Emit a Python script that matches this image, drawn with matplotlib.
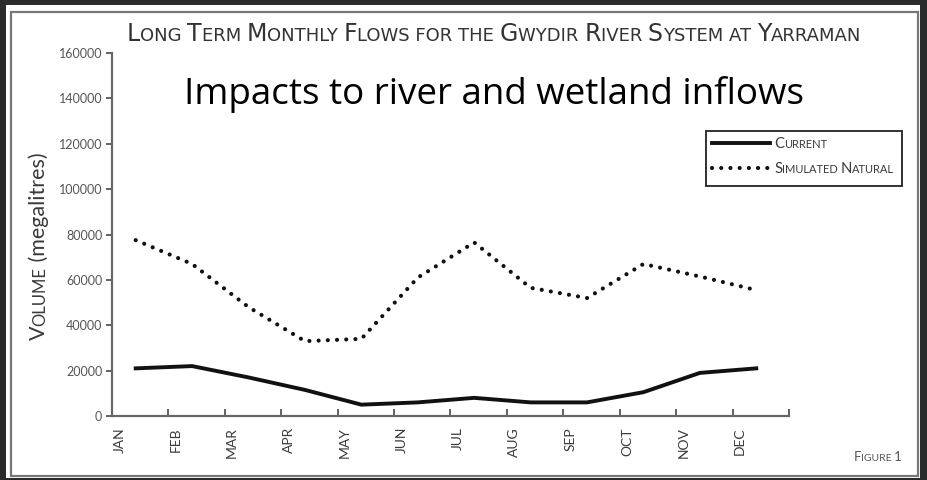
import numpy as np
import matplotlib
matplotlib.use('Agg')
import matplotlib.pyplot as plt
from matplotlib.patches import Rectangle
from matplotlib.lines import Line2D

plt.rcParams['font.family'] = ['Lato', 'DejaVu Sans']

# data
months = ['JAN', 'FEB', 'MAR', 'APR', 'MAY', 'JUN', 'JUL', 'AUG', 'SEP', 'OCT', 'NOV', 'DEC']
current = [21000, 22000, 17000, 11500, 5000, 6000, 8000, 6000, 6000, 10500, 19000, 21000]
natural = [77500, 67000, 48000, 33000, 34000, 61000, 76500, 56500, 52000, 67000, 61500, 55500]
yticks = [0, 20000, 40000, 60000, 80000, 100000, 120000, 140000, 160000]

W, H = 928, 480
fig = plt.figure(figsize=(W / 100, H / 100), dpi=100, facecolor='#2b2b2b')
renderer = fig.canvas.get_renderer()
TXT = '#3a3a3a'


def fx(px):
    return px / W


def fy(py):
    # py measured from the top of the picture
    return 1 - py / H


def sc(s, big, small):
    # split a string into small-caps segments
    segs = []
    for ch in s:
        size = small if ch.islower() or ch == ' ' else big
        if segs and segs[-1][1] == size:
            segs[-1][0] += ch.upper()
        else:
            segs.append([ch.upper(), size])
    return segs


def draw_segs(x, y, segs, ha='left', rotation=0, color=TXT, family=None):
    texts, widths = [], []
    fam = family or plt.rcParams['font.family']
    for s, size in segs:
        t = fig.text(0, 0, s, fontsize=size, color=color, va='baseline', family=fam,
                     ha='left', rotation=rotation, rotation_mode='anchor')
        tmp = fig.text(0, 0, s.replace(' ', '\u00a0'), fontsize=size, family=fam)
        widths.append(tmp.get_window_extent(renderer).width)
        tmp.remove()
        texts.append(t)
    total = sum(widths)
    off = {'left': 0, 'center': total / 2, 'right': total}[ha]
    pos = -off
    for t, w in zip(texts, widths):
        if rotation == 0:
            t.set_position((fx(x + pos), fy(y)))
        else:
            t.set_position((fx(x), fy(y - pos)))
        pos += w


# white panel with grey frame
fig.add_artist(Rectangle((fx(6), fy(478)), fx(914), 473 / H, transform=fig.transFigure,
                         facecolor='white', edgecolor='none', zorder=-2))
fig.add_artist(Rectangle((fx(11), fy(476)), fx(907), 464 / H, transform=fig.transFigure,
                         facecolor='none', edgecolor='#777777', lw=1.6, zorder=-1))

ax = fig.add_axes([fx(112), fy(416), fx(677), 363 / H])
ax.set_facecolor('none')
x = np.arange(len(months)) + 0.42
ax.plot(x, current, color='#111111', lw=2.8, solid_joinstyle='round')
ax.plot(x, natural, color='#111111', lw=3.0, linestyle=(0, (0.01, 2.2)),
        dash_capstyle='round')

ax.set_xlim(0, 12)
ax.set_ylim(0, 160000)
ax.set_xticks(np.arange(13))
ax.set_xticklabels([])
ax.set_xticks(np.arange(12) + 0.13, minor=True)
ax.set_xticklabels(months, minor=True, rotation=90, fontsize=10, color=TXT)
ax.tick_params(axis='x', which='major', direction='in', length=5, width=1.3, color='#555555')
ax.tick_params(axis='x', which='minor', length=0, pad=8)
ax.set_yticks(yticks)
ax.set_yticklabels([str(v) for v in yticks], fontsize=9, color='#555555')
ax.tick_params(axis='y', direction='out', length=4, width=1.3, color='#555555', pad=3)
for side in ['top', 'right']:
    ax.spines[side].set_visible(False)
for side in ['left', 'bottom']:
    ax.spines[side].set_color('#666666')
    ax.spines[side].set_linewidth(1.6)

# titles and labels
draw_segs(494, 41, sc('Long Term Monthly Flows for the Gwydir River System at Yarraman', 17, 13),
          ha='center', family='DejaVu Sans', color='#333333')
fig.text(fx(494.5), fy(104), 'Impacts to river and wetland inflows', fontsize=26.5,
         family='Open Sans', color='black', ha='center', va='baseline')
draw_segs(45, 246, sc('Volume', 15.5, 12) + [[' (megalitres)', 15.5]], ha='center', rotation=90)
draw_segs(902, 461, sc('Figure 1', 9.5, 7.5), ha='right', color='#555555')

# legend box
fig.add_artist(Rectangle((fx(706), fy(186)), fx(196), 55 / H, transform=fig.transFigure,
                         facecolor='white', edgecolor='#222222', lw=1.3))
fig.add_artist(Line2D([fx(712), fx(770)], [fy(143), fy(143)], transform=fig.transFigure,
                      color='#111111', lw=2.8))
fig.add_artist(Line2D([fx(712), fx(770)], [fy(168), fy(168)], transform=fig.transFigure,
                      color='#111111', lw=3.0, linestyle=(0, (0.01, 2.2)), dash_capstyle='round'))
draw_segs(774, 148, sc('Current', 10.7, 8))
draw_segs(774, 173, sc('Simulated Natural', 10.7, 8))

fig.savefig('out.png', dpi=100, facecolor=fig.get_facecolor())
